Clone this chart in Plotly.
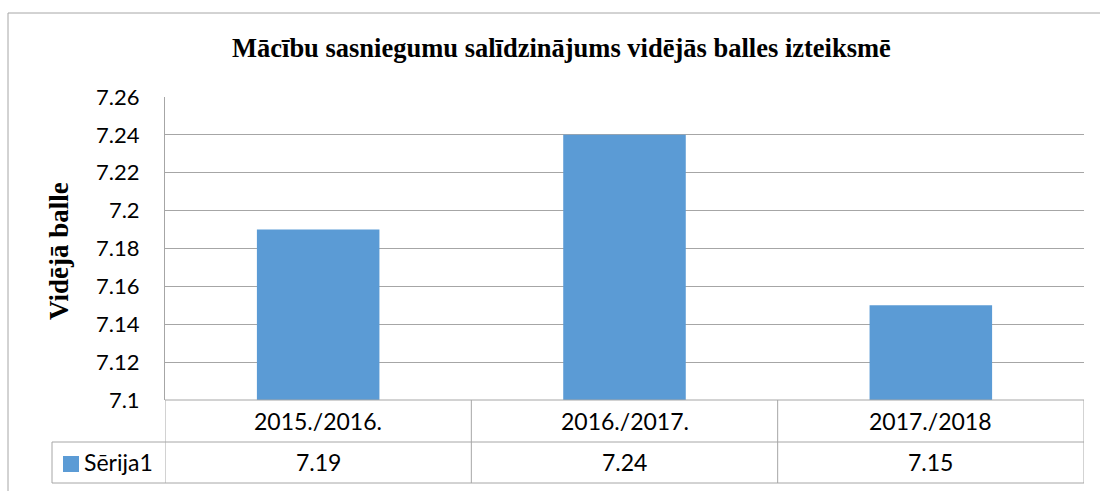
import plotly.graph_objects as go

# ---- data ----
categories = ["2015./2016.", "2016./2017.", "2017./2018"]
values = [7.19, 7.24, 7.15]
value_labels = ["7.19", "7.24", "7.15"]
series_name = "Sērija1"
y_tickvals = [7.1, 7.12, 7.14, 7.16, 7.18, 7.2, 7.22, 7.24, 7.26]
y_ticktext = ["7.1", "7.12", "7.14", "7.16", "7.18", "7.2", "7.22", "7.24", "7.26"]
title_text = "Mācību sasniegumu salīdzinājums vidējās balles izteiksmē"
y_title = "Vidējā balle"

# ---- layout constants (pixels) ----
W, H = 1100, 491
PL, PR, PT, PB = 165, 1084, 97, 400
ROW1, ROW2 = 442, 483
LEG_LEFT = 52
BAR_COLOR = "#5B9BD5"
GRID = "#a6a6a6"
SANS = "Lato"
SERIF = "Liberation Serif"
TABLE_FS = 23


def px_x(x):
    return (x - PL) / (PR - PL)


def px_y(y):
    return (PB - y) / (PB - PT)


fig = go.Figure()
fig.add_trace(go.Bar(
    x=categories, y=values, width=0.4, marker=dict(color=BAR_COLOR, line=dict(width=0)),
    name=series_name, showlegend=False, hoverinfo="skip",
))

shapes = []
annotations = []

# outer chart border
shapes.append(dict(type="rect", xref="paper", yref="paper",
                   x0=px_x(8), x1=px_x(1110), y0=px_y(500), y1=px_y(13),
                   line=dict(color=GRID, width=1), fillcolor="rgba(0,0,0,0)", layer="below"))

# data table horizontal lines
for yy, x0 in [(PB, PL), (ROW1, LEG_LEFT), (ROW2, LEG_LEFT)]:
    shapes.append(dict(type="line", xref="paper", yref="paper",
                       x0=px_x(x0), x1=1, y0=px_y(yy), y1=px_y(yy),
                       line=dict(color=GRID, width=1)))
# legend cell left line
shapes.append(dict(type="line", xref="paper", yref="paper",
                   x0=px_x(LEG_LEFT), x1=px_x(LEG_LEFT), y0=px_y(ROW1), y1=px_y(ROW2),
                   line=dict(color=GRID, width=1)))
# column separators at category boundaries
for i in range(len(categories) + 1):
    shapes.append(dict(type="line", xref="x", yref="paper",
                       x0=i - 0.5, x1=i - 0.5, y0=px_y(PB), y1=px_y(ROW2),
                       line=dict(color=GRID, width=1)))

# legend key square
shapes.append(dict(type="rect", xref="paper", yref="paper",
                   x0=px_x(63), x1=px_x(79), y0=px_y(472), y1=px_y(456),
                   fillcolor=BAR_COLOR, line=dict(width=0)))
annotations.append(dict(text=series_name, xref="paper", yref="paper",
                        x=px_x(82), y=px_y((ROW1 + ROW2) / 2), xanchor="left", yanchor="middle",
                        showarrow=False, font=dict(family=SANS, size=TABLE_FS, color="black")))

# table texts
for i, (c, v) in enumerate(zip(categories, value_labels)):
    annotations.append(dict(text=c, xref="x", yref="paper", x=i, y=px_y((PB + ROW1) / 2),
                            xanchor="center", yanchor="middle", showarrow=False,
                            font=dict(family=SANS, size=TABLE_FS, color="black")))
    annotations.append(dict(text=v, xref="x", yref="paper", x=i, y=px_y((ROW1 + ROW2) / 2),
                            xanchor="center", yanchor="middle", showarrow=False,
                            font=dict(family=SANS, size=TABLE_FS, color="black")))

# chart title
annotations.append(dict(text="<b>" + title_text + "</b>", xref="paper", yref="paper",
                        x=px_x(561), y=px_y(48), xanchor="center", yanchor="middle",
                        showarrow=False, font=dict(family=SERIF, size=26.5, color="black")))
# y-axis title
annotations.append(dict(text="<b>" + y_title + "</b>", xref="paper", yref="paper",
                        x=px_x(59), y=px_y(251), xanchor="center", yanchor="middle",
                        textangle=-90, showarrow=False,
                        font=dict(family=SERIF, size=27, color="black")))

fig.update_layout(
    width=W, height=H,
    margin=dict(l=PL, r=W - PR, t=PT, b=H - PB, autoexpand=False),
    paper_bgcolor="white", plot_bgcolor="white",
    shapes=shapes, annotations=annotations,
    showlegend=False,
    xaxis=dict(type="category", range=[-0.5, len(categories) - 0.5], showticklabels=False,
               showgrid=False, zeroline=False, showline=False, ticks=""),
    yaxis=dict(range=[7.1, 7.26], tickvals=y_tickvals, ticktext=y_ticktext,
               showgrid=True, gridcolor=GRID, gridwidth=1, zeroline=False,
               showline=True, linecolor=GRID, linewidth=1, ticks="",
               ticklabelstandoff=20,
               tickfont=dict(family=SANS, size=22, color="black")),
)

fig.write_html("out.html", config={"displayModeBar": False},
               post_script="document.body.style.margin='0px';document.body.style.overflow='hidden';")
